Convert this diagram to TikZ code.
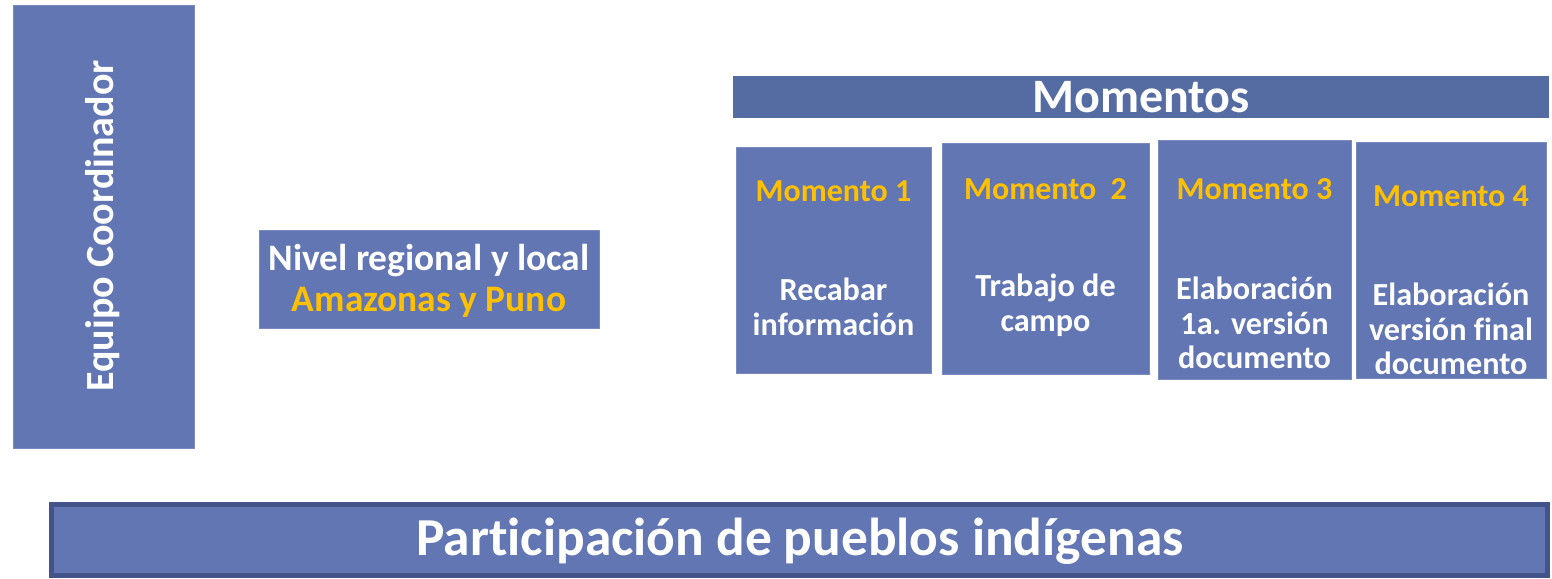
\documentclass[tikz,border=0pt]{standalone}
\usepackage{fontspec}
\setmainfont{Carlito}[Ligatures=NoCommon]
\usepackage{xcolor}
\definecolor{caja}{RGB}{97,118,179}
\definecolor{cabecera}{RGB}{85,108,163}
\definecolor{borde}{RGB}{67,84,138}
\definecolor{oro}{RGB}{255,192,0}

\begin{document}
\begin{tikzpicture} [x=0.5pt, y=-0.5pt,
  caja/.style={fill=caja, draw=caja!85!white, line width=0.4pt, inner sep=0, outer sep=0},
  texto/.style={text=white, font=\bfseries\fontsize{16.1}{17.4}\selectfont, align=center},
  titulo/.style={text=oro, font=\bfseries\fontsize{16}{17.5}\selectfont}]
\useasboundingbox (0,0) rectangle (1552,578);
% columna izquierda
\node[caja, minimum width=90.5pt, minimum height=221.5pt] (equipo) at (103.5,226.5) {};
\node[rotate=90, text=white, font=\bfseries\fontsize{20}{24}\selectfont] (equipotxt) at (103,226) {Equipo Coordinador};
\node[caja, minimum width=170pt, minimum height=49pt] (nivel) at (429,279) {};
\node[align=center, font=\bfseries\fontsize{18.7}{20.5}\selectfont] (niveltxt) at (429,281)
  {\textcolor{white}{Nivel regional y local}\\ \textcolor{oro}{Amazonas y Puno}};
% momentos
\node[fill=cabecera, minimum width=408pt, minimum height=21pt, inner sep=0] (momentos) at (1141,97) {};
\node[text=white, font=\bfseries\fontsize{24}{26}\selectfont] (momentostxt) at (1141,97) {Momentos};
\foreach \i/\cx/\cy/\w/\h/\ly/\by/\txt in {
  1/833.5/260/97.5/113/191/307/{Recabar\\información},
  2/1045.5/258.5/103.5/115.5/189/305/{Trabajo de\\campo},
  3/1254.5/259.5/96.5/119.5/189/323/{Elaboración\\1a. versión\\documento},
  4/1451/260/95/118/196/329/{Elaboración\\versión final\\documento}} {
 \node[caja, minimum width=\w pt, minimum height=\h pt] (m\i) at (\cx,\cy) {};
 \node[titulo] (m\i lab) at (\cx,\ly) {Momento \ifnum\i=2 \ \fi\i};
 \node[texto] (m\i txt) at (\cx,\by) {\txt};
}
% barra inferior
\draw[borde, line width=2.5pt, fill=caja] (51.5,504.5) rectangle (1547.5,575.5);
\node[text=white, font=\bfseries\fontsize{26.7}{30}\selectfont] (participacion) at (800,541) {Participación de pueblos indígenas};
\end{tikzpicture}
\end{document}
